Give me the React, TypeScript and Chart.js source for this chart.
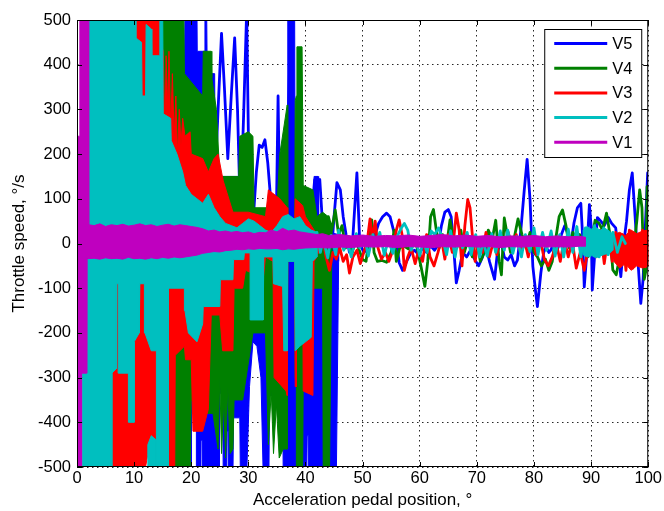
import React, { useEffect, useRef } from 'react';
import { Chart, registerables } from 'chart.js';

Chart.register(...registerables);

type Pt = [number, number];

const FONT = "'Liberation Sans', Arial, Helvetica, sans-serif";

const seriesNames = ['V5', 'V4', 'V3', 'V2', 'V1'];
const seriesColors: Record<string, string> = {
  V5: '#0000ff',
  V4: '#008000',
  V3: '#ff0000',
  V2: '#00bfbf',
  V1: '#bf00bf',
};
const xMin = 0;
const xMax = 100;
const xStep = 10;
const yMin = -500;
const yMax = 500;
const yStep = 100;
const xTitle = 'Acceleration pedal position, °';
const yTitle = 'Throttle speed, °/s';

// ---- V1 (magenta): dense signal range (upper / lower edges)
const v1BandTop: Pt[] = [[0.05,240],[0.5,240],[0.5,520],[2.0,520],[2.05,42],[3,40],[4,44],[5,38],[6,42],[7,40],[8,43],[9,39],[10,41],[11,44],[12,40],[13,42],[14,38],[15,41],[16,43],[17,39],[18,42],[19,40],[20,38],[21,36],[22,33],[23,28],[24,30],[25,26],[26,28],[27,25],[28,27],[29,24],[30,26],[31,22],[32,25],[33,24],[34,30],[35,26],[36,34],[37,28],[38,30],[39,26],[40,24],[41,22],[42,20],[43,22],[44,18],[46,20],[48,17],[50,19],[52,16],[54,18],[56,17],[58,19],[60,16],[62,18],[64,20],[66,17],[68,19],[70,16],[72,18],[74,15],[76,17],[78,16],[80,18],[82,15],[84,17],[86,15],[88,16],[89,14]];
const v1BandBottom: Pt[] = [[0.05,-520],[0.8,-520],[0.8,-290],[1.7,-290],[1.75,-34],[3,-33],[4,-35],[5,-32],[6,-34],[7,-33],[8,-35],[9,-31],[10,-34],[11,-33],[12,-35],[13,-32],[14,-34],[15,-31],[16,-33],[17,-30],[18,-32],[19,-30],[20,-28],[21,-26],[22,-22],[23,-20],[24,-18],[25,-19],[26,-16],[27,-15],[28,-13],[29,-14],[30,-12],[31,-13],[32,-11],[33,-12],[34,-12],[35,-11],[36,-14],[37,-12],[38,-13],[39,-11],[40,-10],[42,-9],[44,-10],[46,-8],[48,-9],[50,-7],[52,-8],[54,-7],[56,-9],[58,-7],[60,-8],[62,-9],[64,-7],[66,-8],[68,-6],[70,-8],[72,-7],[74,-9],[76,-7],[78,-8],[80,-6],[82,-8],[84,-7],[86,-8],[88,-6],[89,-6]];

// ---- V2 (cyan)
const v2BlockTop: Pt[] = [[0.9,520],[10.3,520],[10.3,460],[11.3,450],[11.4,330],[12.0,330],[12.1,490],[13.0,480],[13.1,420],[14.4,420],[14.5,520],[15.0,520],[15.1,290],[16.4,280],[16.5,230],[17.5,200],[18.5,160],[19,130],[20,110],[21,100],[22,90],[23,110],[24,80],[25,60],[26,45],[27,40],[28,35],[29,45],[30,55],[31,50],[32,40],[33,30],[34,25],[35,40],[36,60],[37,65],[38,55],[39,60],[40,40],[41,30],[42,25]];
const v2BlockBottom: Pt[] = [[0.9,-520],[6.1,-520],[6.1,-290],[6.9,-280],[6.95,-90],[7.2,-90],[7.25,-290],[9.0,-290],[9.0,-400],[10.0,-400],[10.0,-220],[10.9,-200],[11.0,-90],[11.8,-90],[11.9,-200],[13.0,-240],[13.9,-240],[13.9,-520],[16.0,-520],[16.0,-100],[18.8,-100],[18.9,-150],[19.5,-200],[21,-220],[22,-180],[22.1,-141],[25,-141],[25.1,-81],[27.3,-81],[27.4,-36],[29.2,-36],[29.3,-21],[30.3,-21],[30.4,-171],[32.6,-171],[32.7,-30],[34.3,-30],[34.4,-90],[36,-96],[36.2,-240],[36.8,-240],[36.9,-40],[38.1,-40],[38.2,-240],[39,-230],[41,-210],[41.2,-40],[42,-30]];
const v2PatchTop: Pt[] = [[12.4,-450],[13.0,-430],[13.9,-440]];
const v2PatchBottom: Pt[] = [[12.4,-520],[13.0,-520],[13.9,-520]];
const v2DenseTop: Pt[] = [[88.6,30],[89.3,38],[90,32],[90.8,36],[91.6,30],[92.4,34],[93.2,28],[93.8,20]];
const v2DenseBottom: Pt[] = [[88.6,-25],[89.3,-30],[90,-26],[90.8,-32],[91.6,-28],[92.4,-24],[93.2,-22],[93.8,-15]];
const v2Trace: Pt[] = [[42,25],[42.6,-20],[43.1,10],[43.9,-32],[44.5,18],[45.3,-25],[45.8,30],[46.7,-15],[47.2,12],[48,-30],[48.9,22],[49.5,-10],[50.3,15],[51,-28],[51.8,20],[52.3,-5],[53,25],[53.8,-26],[54.5,8],[55.3,-22],[56,15],[56.8,35],[57.3,45],[57.9,30],[58.5,-15],[59.3,10],[60,-28],[60.6,5],[61.3,-20],[62,28],[62.6,20],[63.3,35],[64,10],[64.7,-25],[65.4,28],[66.2,-30],[66.8,15],[67.5,-10],[68.3,25],[69,-25],[69.8,20],[70.5,-30],[71.1,5],[71.8,-28],[72.6,22],[73.3,-20],[74.1,28],[74.8,-15],[75.4,30],[76.3,-22],[77,15],[77.8,-30],[78.5,20],[79.3,-18],[80,35],[80.7,-25],[81.5,25],[82.2,-15],[83,28],[83.7,-28],[84.5,20],[85.2,-30],[86,32],[86.8,-20],[87.5,38],[88.2,-30],[89,35],[89.8,-28],[90.6,40],[91.4,-30],[92.2,35],[93,-25],[93.8,25],[94.6,-20],[95.4,15],[96,0]];

// ---- V3 (red)
const v3BlockTop: Pt[] = [[5.5,400],[10.3,400],[10.4,520],[14.5,520],[14.6,450],[15.1,430],[15.4,250],[15.6,420],[15.9,300],[16.1,430],[16.4,260],[16.7,380],[17.0,240],[17.3,330],[17.6,200],[17.9,300],[18.2,220],[18.5,280],[18.9,240],[19.8,250],[20,200],[22,190],[23,160],[24,190],[24.7,200],[25.6,140],[27.3,70],[30,70],[33,60],[33.5,120],[35.5,100],[36.8,80],[36.9,40],[38.1,40],[38.2,100],[39.5,85],[40,60],[41.5,30],[42,20]];
const v3BlockBottom: Pt[] = [[5.5,-300],[6.1,-300],[6.1,-520],[10,-520],[12,-500],[13,-430],[13.9,-440],[14,-300],[15.9,-300],[16,-520],[17.1,-520],[17.2,-250],[18.8,-230],[19,-260],[20,-260],[20.3,-420],[22,-420],[23,-370],[23.5,-160],[25,-160],[25.5,-240],[27.3,-240],[27.5,-100],[29,-100],[29.5,-60],[31.4,-70],[32.6,-80],[33,-30],[34.3,-40],[34.5,-300],[36.6,-330],[36.8,-340],[36.9,-30],[38.1,-30],[38.2,-320],[38.4,-320],[38.5,-30],[39.5,-30],[39.6,-330],[41.3,-340],[41.5,-40],[42,-30]];
const v3DenseTop: Pt[] = [[94,20],[95,25],[96,18],[97,30],[98,22],[99,28],[100,30]];
const v3DenseBottom: Pt[] = [[94,-40],[95,-55],[96,-45],[97,-60],[98,-50],[99,-55],[100,-50]];
const v3Trace: Pt[] = [[41.5,10],[42.2,-20],[43,15],[43.6,-30],[44.2,-60],[44.8,-20],[45.4,-35],[46,-10],[46.6,-40],[47.2,-25],[47.7,-66],[48.3,-30],[49,-15],[49.6,-45],[50.2,-20],[50.8,5],[51.3,55],[51.7,10],[52.2,50],[52.7,-10],[53.3,-35],[54,-20],[54.6,-40],[55.3,-15],[55.9,30],[56.4,53],[56.9,20],[57.3,-60],[57.9,-30],[58.5,-10],[59.2,-45],[59.8,-15],[60.5,-40],[61.2,20],[61.8,-30],[62.5,-50],[63.2,-20],[63.8,10],[64.4,-35],[65,20],[65.7,-20],[66.4,68],[66.9,30],[67.4,-50],[67.9,40],[68.4,98],[68.8,80],[69.2,20],[69.7,-40],[70.3,10],[71,-20],[71.6,25],[72.2,-30],[72.9,5],[73.5,-25],[74.1,20],[74.8,-10],[75.5,25],[76.2,-15],[76.9,20],[77.6,-20],[78.3,10],[79,-30],[79.7,15],[80.4,-25],[81.1,10],[81.8,-35],[82.5,-50],[83.2,-30],[83.9,0],[84.6,-40],[85.3,10],[86,-30],[86.7,5],[87.4,-55],[88.1,-20],[88.8,-60],[89.5,-10],[90.2,25],[90.9,-30],[91.6,30],[92.3,-45],[93,20],[93.7,-40],[94.3,25],[94.9,-50],[95.5,20],[96.1,-60],[96.7,30],[97.3,-55],[97.9,15],[98.5,-45],[99,30],[99.5,-52],[100,-20]];

// ---- V4 (green)
const v4BlockTop: Pt[] = [[14.5,520],[18.7,520],[18.8,380],[22,330],[22.1,430],[23.5,430],[23.6,370],[24.4,300],[25,150],[28.3,150],[28.5,240],[30,250],[30.8,240],[31,80],[35,80],[35.5,200],[36.8,310],[36.9,-40],[38.1,-40],[38.2,320],[38.4,330],[38.5,440],[39.4,440],[39.6,130],[41.3,120],[42,60],[43,70],[44,60],[44.6,30]];
const v4BlockBottom: Pt[] = [[14.5,-300],[16.9,-300],[17,-520],[19.8,-520],[20,-350],[22,-380],[23.8,-380],[24.7,-460],[25.0,-300],[25.3,-470],[25.7,-350],[26.0,-480],[26.4,-320],[26.8,-470],[27.3,-460],[27.5,-350],[29,-350],[30.8,-200],[33,-200],[33.5,-450],[34.0,-330],[34.4,-470],[34.9,-360],[35.4,-480],[36.1,-460],[36.8,-460],[36.9,-40],[38.1,-40],[38.2,-300],[38.4,-300],[38.5,-520],[39.5,-520],[39.7,-100],[43,-100],[43.1,-520],[44.2,-520],[44.6,-30]];
const v4Trace: Pt[] = [[44,60],[44.6,30],[45.2,75],[45.8,20],[46.4,40],[47,-10],[47.6,15],[48.2,-20],[48.8,10],[49.4,-15],[50,-36],[50.6,-40],[51.2,20],[51.6,53],[52,-20],[52.6,-40],[53.4,-38],[54.2,-42],[55,-20],[55.5,30],[55.9,-40],[56.5,-10],[57.2,-5],[58,-12],[58.8,5],[59.5,-8],[60.2,-50],[60.9,-96],[61.4,-40],[61.9,60],[62.4,76],[62.9,30],[63.4,-10],[64,20],[64.6,-15],[65.3,53],[65.9,10],[66.5,-10],[67.2,30],[67.8,-20],[68.5,10],[69.2,-30],[69.9,15],[70.6,-40],[71.3,-20],[72,30],[72.7,10],[73.3,52],[73.9,-40],[74.3,-70],[74.8,57],[75.3,20],[75.9,-20],[76.5,10],[77.2,55],[77.9,20],[78.6,-10],[79.3,25],[80,-20],[80.6,-30],[81.3,-50],[82,-35],[82.6,-60],[83.2,-40],[83.8,10],[84.4,60],[85,75],[85.6,40],[86.2,-10],[86.8,25],[87.4,10],[88,20],[88.7,-10],[89.4,-30],[90.1,10],[90.7,52],[91.4,45],[92,30],[92.7,68],[93.3,20],[93.8,-59],[94.4,-70],[95,-30],[95.6,10],[96.2,-40],[96.8,20],[97.4,-20],[98,50],[98.5,120],[98.9,80],[99.3,-80],[99.6,-60],[99.8,127],[100,100]];

// ---- V5 (blue)
const v5BlockTop: Pt[] = [[18.5,0],[18.9,520],[21,520],[21.05,430],[22.3,430],[22.4,520],[22.7,520],[22.8,380],[24.1,380],[24.2,150],[30.2,150],[30.3,40],[36.8,40],[36.9,520],[38.1,520],[38.2,40],[41.4,40],[41.5,150],[42.2,150],[42.3,30],[45.8,20]];
const v5BlockBottom: Pt[] = [[18.5,-520],[20,-520],[20.05,-380],[20.9,-380],[21,-520],[21.6,-520],[21.7,-440],[21.9,-440],[22,-520],[24.9,-520],[25,-335],[25.5,-335],[25.6,-520],[26.2,-520],[26.3,-420],[26.5,-420],[26.6,-520],[27.3,-520],[27.4,-390],[28.5,-390],[28.6,-520],[29.7,-520],[30.2,-320],[30.8,-220],[31.5,-230],[32.2,-300],[32.6,-520],[33.6,-520],[33.7,-340],[36,-340],[36.1,-520],[40.2,-520],[40.3,-430],[40.5,-430],[40.6,-520],[45.4,-520],[45.8,-40]];
const v5Trace: Pt[] = [[22.7,300],[23.3,150],[24,80],[24.2,150],[24.7,300],[25.3,470],[25.8,350],[26.4,190],[27,330],[27.6,460],[28.1,300],[28.6,60],[29.2,300],[29.7,520],[30.2,60],[30.8,43],[31.4,160],[31.9,220],[32.4,215],[32.9,232],[33.4,180],[33.9,100],[34.3,58],[34.9,60],[35.2,330],[35.5,60],[36.2,40],[37,300],[37.5,520],[38.2,40],[39,-60],[40,20],[41,50],[41.6,143],[42,140],[42.5,143],[43,40],[43.5,-100],[44,20],[44.5,-30],[45,60],[45.5,136],[46.1,120],[46.6,60],[47.1,20],[47.7,-20],[48.3,16],[49,158],[49.5,1],[50.2,-20],[51,-10],[51.7,5],[52.1,16],[52.8,45],[53.5,60],[54.2,68],[54.8,60],[55.4,30],[55.9,10],[56.4,-43],[57,-60],[57.7,-40],[58.4,-22],[59.1,-15],[59.8,-25],[60.5,-10],[61.2,-20],[61.9,-5],[62.6,-15],[63.3,0],[63.8,40],[64.4,70],[65,76],[65.5,60],[66,-20],[66.4,-88],[66.9,-60],[67.5,-20],[68.2,-30],[68.9,-15],[69.6,-35],[70.3,-50],[71,-30],[71.6,-5],[72.2,-40],[73.1,-80],[73.6,-20],[74.2,8],[74.8,-30],[75.4,-37],[76,-25],[76.6,-50],[77.1,-37],[77.7,30],[78.3,120],[78.8,188],[79.3,100],[79.8,-51],[80.3,-110],[80.6,-141],[81.2,-66],[81.7,-20],[82.1,-7],[82.6,-20],[83,-14],[83.6,10],[84.2,-10],[84.8,20],[85.4,40],[86,20],[86.6,10],[87,46],[87.6,80],[88.2,90],[88.5,20],[88.8,-97],[89.2,-30],[89.7,87],[90,40],[90.2,-104],[90.6,-30],[91.1,58],[91.7,50],[92.3,40],[93,58],[93.6,45],[94.3,35],[94.8,-20],[95.2,-74],[95.7,0],[96.2,50],[96.7,120],[97.2,158],[97.7,60],[98.2,-40],[98.7,-134],[99.1,-80],[99.5,40],[99.9,158],[100,120]];

const toXY = (a: Pt[]) => a.map(([x, y]) => ({ x, y }));
const outline = (top: Pt[], bottom: Pt[]) => toXY([...top, ...bottom.slice().reverse(), top[0]]);
const rank = (name: string) => 2 + seriesNames.length - 1 - seriesNames.indexOf(name);

function bandSet(name: string, top: Pt[], bottom: Pt[]) {
  const c = seriesColors[name];
  return {
    label: name,
    data: outline(top, bottom),
    borderColor: c,
    backgroundColor: c,
    borderWidth: 1,
    fill: 'shape',
    pointRadius: 0,
    tension: 0,
    order: rank(name),
    clip: 0,
    borderJoinStyle: 'round',
  };
}

function traceSet(name: string, arr: Pt[]) {
  const c = seriesColors[name];
  return {
    label: name,
    data: toXY(arr),
    borderColor: c,
    backgroundColor: c,
    borderWidth: 2.8,
    fill: false,
    pointRadius: 0,
    tension: 0,
    order: rank(name),
    clip: 0,
    borderJoinStyle: 'round',
    borderCapStyle: 'round',
  };
}

const framePlugin = {
  id: 'matlabFrame',
  afterDatasetsDraw(chart: any) {
    const { ctx, chartArea: a, scales } = chart;
    ctx.save();
    ctx.strokeStyle = '#000';
    ctx.lineWidth = 1;
    const tl = 5;
    ctx.beginPath();
    scales.x.ticks.forEach((t: any) => {
      const px = Math.round(scales.x.getPixelForValue(t.value)) + 0.5;
      ctx.moveTo(px, a.bottom);
      ctx.lineTo(px, a.bottom - tl);
      ctx.moveTo(px, a.top);
      ctx.lineTo(px, a.top + tl);
    });
    scales.y.ticks.forEach((t: any) => {
      const py = Math.round(scales.y.getPixelForValue(t.value)) + 0.5;
      ctx.moveTo(a.left, py);
      ctx.lineTo(a.left + tl, py);
      ctx.moveTo(a.right, py);
      ctx.lineTo(a.right - tl, py);
    });
    ctx.stroke();
    ctx.strokeRect(a.left + 0.5, a.top + 0.5, a.right - a.left - 1, a.bottom - a.top - 1);
    ctx.restore();
  },
};

const legendPlugin = {
  id: 'matlabLegend',
  afterDraw(chart: any) {
    const { ctx, chartArea: a } = chart;
    const boxW = 97;
    const boxH = 128;
    const x0 = a.right - 7 - boxW;
    const y0 = a.top + 9;
    ctx.save();
    ctx.fillStyle = '#fff';
    ctx.fillRect(x0, y0, boxW, boxH);
    ctx.strokeStyle = '#000';
    ctx.lineWidth = 1;
    ctx.strokeRect(x0 + 0.5, y0 + 0.5, boxW, boxH);
    ctx.font = `16.5px ${FONT}`;
    ctx.textBaseline = 'middle';
    ctx.textAlign = 'left';
    seriesNames.forEach((name, i) => {
      const cy = y0 + 14.5 + i * 24.7;
      ctx.strokeStyle = seriesColors[name];
      ctx.lineWidth = 3;
      ctx.beginPath();
      ctx.moveTo(x0 + 10, cy);
      ctx.lineTo(x0 + 63, cy);
      ctx.stroke();
      ctx.fillStyle = '#000';
      ctx.fillText(name, x0 + 68, cy + 1);
    });
    ctx.restore();
  },
};

export default function App() {
  const ref = useRef<HTMLCanvasElement | null>(null);

  useEffect(() => {
    document.body.style.margin = '0';
    const canvas = ref.current;
    if (!canvas) return;
    const datasets: any[] = [
      bandSet('V1', v1BandTop, v1BandBottom),
      bandSet('V2', v2BlockTop, v2BlockBottom),
      bandSet('V2', v2PatchTop, v2PatchBottom),
      bandSet('V2', v2DenseTop, v2DenseBottom),
      traceSet('V2', v2Trace),
      bandSet('V3', v3BlockTop, v3BlockBottom),
      bandSet('V3', v3DenseTop, v3DenseBottom),
      traceSet('V3', v3Trace),
      bandSet('V4', v4BlockTop, v4BlockBottom),
      traceSet('V4', v4Trace),
      bandSet('V5', v5BlockTop, v5BlockBottom),
      traceSet('V5', v5Trace),
    ];
    const tickFont = { family: FONT, size: 16.5 };
    const titleFont = { family: FONT, size: 17 };
    const chart = new Chart(canvas, {
      type: 'line',
      data: { datasets },
      options: {
        responsive: false,
        maintainAspectRatio: false,
        animation: false,
        devicePixelRatio: 1,
        events: [],
        layout: { padding: { left: 0, right: 15, top: 20, bottom: 0 } },
        plugins: {
          legend: { display: false },
          tooltip: { enabled: false },
          title: { display: false },
        },
        scales: {
          x: {
            type: 'linear',
            min: xMin,
            max: xMax,
            afterFit: (s: any) => {
              s.height = 44;
            },
            ticks: {
              stepSize: xStep,
              autoSkip: false,
              maxRotation: 0,
              padding: 2,
              color: '#000',
              font: tickFont,
            },
            grid: { color: 'rgba(0,0,0,0.85)', lineWidth: 1, drawTicks: false },
            border: { display: false, dash: [1.5, 3.5] },
            title: {
              display: true,
              text: xTitle,
              color: '#000',
              font: titleFont,
              padding: { top: 0, bottom: 0 },
            },
          },
          y: {
            type: 'linear',
            min: yMin,
            max: yMax,
            afterFit: (s: any) => {
              s.width = 77;
            },
            ticks: {
              stepSize: yStep,
              autoSkip: false,
              padding: 6,
              color: '#000',
              font: tickFont,
            },
            grid: { color: 'rgba(0,0,0,0.85)', lineWidth: 1, drawTicks: false },
            border: { display: false, dash: [1.5, 3.5] },
            title: {
              display: true,
              text: yTitle,
              color: '#000',
              font: titleFont,
              padding: { top: 9, bottom: 0 },
            },
          },
        },
      } as any,
      plugins: [framePlugin, legendPlugin],
    });
    return () => chart.destroy();
  }, []);

  return (
    <div style={{ position: 'absolute', left: 0, top: 0, width: 664, height: 511, background: '#fff' }}>
      <canvas ref={ref} width={664} height={511} style={{ display: 'block' }} />
    </div>
  );
}
